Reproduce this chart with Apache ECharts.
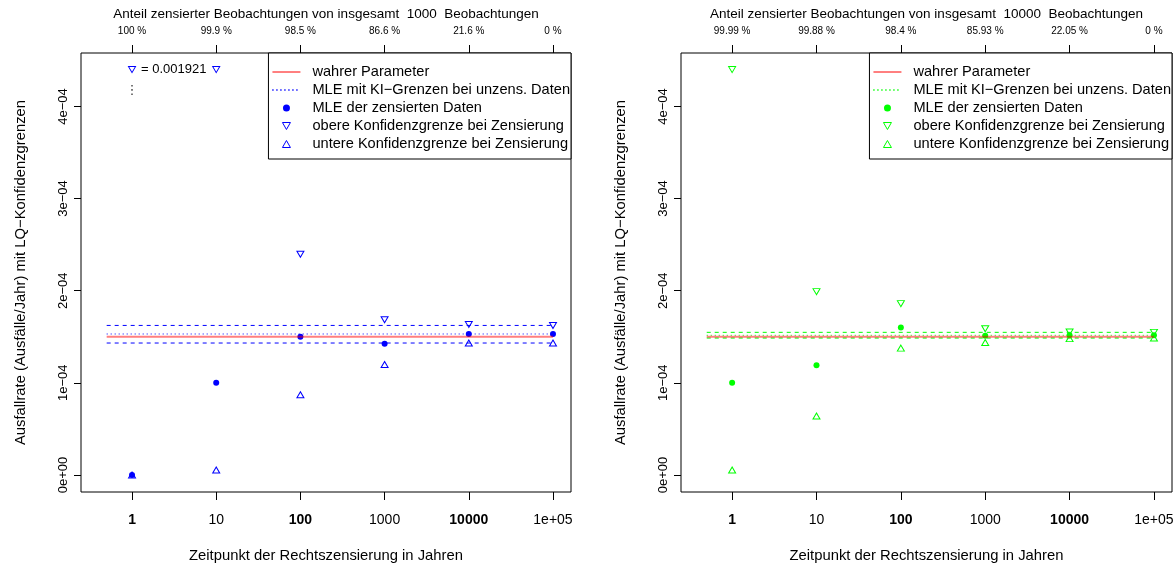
<!DOCTYPE html>
<html>
<head>
<meta charset="utf-8">
<script src="https://cdn.jsdelivr.net/npm/echarts@6/dist/echarts.min.js"></script>
<style>
html,body{margin:0;padding:0;background:#fff;}
#chart{width:1173px;height:563px;}
</style>
</head>
<body>
<div id="chart"></div>
<script>
// ---------------- data ----------------
const censorTimes = [1, 10, 100, 1000, 10000, 100000];
const xTickLabels = ['1', '10', '100', '1000', '10000', '1e+05'];
const yTickValues = [0, 1e-4, 2e-4, 3e-4, 4e-4];
const yTickLabels = ['0e+00', '1e\u221204', '2e\u221204', '3e\u221204', '4e\u221204'];
const trueParam = 1.5e-4;
const refLineRange = [0.5, 100000];
const yLimTop = 4.4e-4;   // values above this are drawn at the top with their value noted

// panel A: 1000 observations
const nObsA = 1000;
const censPctA = ['100 %', '99.9 %', '98.5 %', '86.6 %', '21.6 %', '0 %'];
const mleA = [0, 1.0e-4, 1.5e-4, 1.424e-4, 1.53e-4, 1.53e-4];
const upperA = [0.001921, 4.40e-4, 2.395e-4, 1.685e-4, 1.634e-4, 1.623e-4];
const lowerA = [0, 0.054e-4, 0.87e-4, 1.199e-4, 1.432e-4, 1.432e-4];
const uncensA = [1.53e-4, 1.432e-4, 1.623e-4]; // MLE, lower, upper (uncensored data)

// panel B: 10000 observations
const nObsB = 10000;
const censPctB = ['99.99 %', '99.88 %', '98.4 %', '85.93 %', '22.05 %', '0 %'];
const mleB = [1.0e-4, 1.19e-4, 1.60e-4, 1.51e-4, 1.516e-4, 1.516e-4];
const upperB = [4.40e-4, 1.99e-4, 1.86e-4, 1.587e-4, 1.552e-4, 1.548e-4];
const lowerB = [0.054e-4, 0.64e-4, 1.377e-4, 1.438e-4, 1.48e-4, 1.486e-4];
const uncensB = [1.516e-4, 1.486e-4, 1.548e-4];

const legendNames = [
  'wahrer Parameter',
  'MLE mit KI\u2212Grenzen bei unzens. Daten',
  'MLE der zensierten Daten',
  'obere Konfidenzgrenze bei Zensierung',
  'untere Konfidenzgrenze bei Zensierung'
];

// ---------------- chart ----------------
const FONT = '"Liberation Sans", Arial, Helvetica, sans-serif';
const lg = v => Math.log10(v);
const X_MIN = -0.606, X_MAX = 5.214;
const Y_MIN = -1.85e-5, Y_MAX = 4.58e-4;
const tickIdx = [0, 1, 2, 3, 4, 5];
const TRI_DOWN = 'path://M0,0L8,0L4,7Z';
const TRI_UP = 'path://M4,0L8,7L0,7Z';

function yLabel(v) {
  const i = yTickValues.findIndex(t => Math.abs(t - v) < 1e-12);
  return i >= 0 ? yTickLabels[i] : '';
}

const gridBase = { top: 53, bottom: 71, show: true, borderColor: '#000', borderWidth: 1,
  backgroundColor: 'transparent', containLabel: false, outerBoundsMode: 'none' };
const grids = [
  Object.assign({ left: 81, right: 602 }, gridBase),
  Object.assign({ left: 681, right: 1 }, gridBase)
];

function bottomAxis(gi) {
  return {
    type: 'value', gridIndex: gi, position: 'bottom', min: X_MIN, max: X_MAX,
    splitLine: { show: false }, axisLine: { show: false, onZero: false },
    axisTick: { show: true, length: 8, lineStyle: { color: '#000' }, customValues: tickIdx },
    axisLabel: {
      customValues: tickIdx, margin: 21, color: '#000', fontFamily: FONT, fontSize: 14,
      formatter: v => {
        const i = Math.round(v);
        return i % 2 === 0 ? '{b|' + xTickLabels[i] + '}' : xTickLabels[i];
      },
      rich: { b: { fontWeight: 'bold', fontFamily: FONT, fontSize: 14, color: '#000' } }
    },
    name: 'Zeitpunkt der Rechtszensierung in Jahren', nameLocation: 'middle', nameGap: 56,
    nameTextStyle: { fontFamily: FONT, fontSize: 14.8, color: '#000' }
  };
}
function topAxis(gi, pct, n) {
  return {
    type: 'value', gridIndex: gi, position: 'top', min: X_MIN, max: X_MAX,
    splitLine: { show: false }, axisLine: { show: false, onZero: false },
    axisTick: { show: true, length: 8, lineStyle: { color: '#000' }, customValues: tickIdx },
    axisLabel: {
      customValues: tickIdx, margin: 17, color: '#000', fontFamily: FONT, fontSize: 10,
      formatter: v => pct[Math.round(v)]
    },
    name: 'Anteil zensierter Beobachtungen von insgesamt  ' + n + '  Beobachtungen',
    nameLocation: 'middle', nameGap: 29,
    nameTextStyle: { fontFamily: FONT, fontSize: 13.5, color: '#000' }
  };
}
function leftAxis(gi) {
  return {
    type: 'value', gridIndex: gi, min: Y_MIN, max: Y_MAX,
    splitLine: { show: false }, axisLine: { show: false, onZero: false },
    axisTick: { show: true, length: 7, lineStyle: { color: '#000' }, customValues: yTickValues },
    axisLabel: {
      customValues: yTickValues, rotate: 90, margin: 11, color: '#000', fontFamily: FONT, fontSize: 13,
      formatter: yLabel
    },
    name: 'Ausfallrate (Ausfälle/Jahr) mit LQ\u2212Konfidenzgrenzen', nameLocation: 'middle', nameGap: 53,
    nameRotate: 90,
    nameTextStyle: { fontFamily: FONT, fontSize: 14.8, color: '#000' }
  };
}

function hline(name, val, xi, yi, style, z) {
  return {
    type: 'line', name: name, xAxisIndex: xi, yAxisIndex: yi, symbol: 'none', silent: true,
    data: [[lg(refLineRange[0]), val], [lg(refLineRange[1]), val]],
    lineStyle: style, itemStyle: { color: style.color }, z: z, animation: false
  };
}

function panelSeries(xi, yi, color, mle, upper, lower, uncens, suffix) {
  const N = legendNames.map(s => s + suffix);
  const tri = { color: 'transparent', borderColor: color, borderWidth: 1, opacity: 1 };
  const over = [];
  upper.forEach((v, i) => { if (v > yLimTop) over.push({ value: [lg(censorTimes[i]), yLimTop], real: v }); });
  const s = [
    hline(N[1] + ' o', uncens[2], xi, yi, { color: color, width: 1, type: [4, 4] }, 2),
    hline(N[1] + ' u', uncens[1], xi, yi, { color: color, width: 1, type: [4, 4] }, 2),
    hline(N[1], uncens[0], xi, yi, { color: color, width: 1, type: [1, 3] }, 2),
    {
      type: 'scatter', name: N[2], xAxisIndex: xi, yAxisIndex: yi, symbol: 'circle', symbolSize: 6,
      itemStyle: { color: color, opacity: 1 }, z: 3, animation: false,
      data: mle.map((v, i) => [lg(censorTimes[i]), v])
    },
    {
      type: 'scatter', name: N[3], xAxisIndex: xi, yAxisIndex: yi, symbol: 'triangle', symbolRotate: 180,
      symbolSize: [7, 6], itemStyle: tri, z: 4, animation: false, clip: true,
      data: upper.map((v, i) => [lg(censorTimes[i]), v])
    },
    {
      type: 'scatter', name: N[4], xAxisIndex: xi, yAxisIndex: yi, symbol: 'triangle',
      symbolSize: [7, 6], itemStyle: tri, z: 4, animation: false,
      data: lower.map((v, i) => [lg(censorTimes[i]), v])
    }
  ];
  if (over.length) {
    s.push({
      type: 'scatter', name: 'overflow' + suffix, xAxisIndex: xi, yAxisIndex: yi, symbol: 'triangle', symbolRotate: 180,
      symbolSize: [7, 6], itemStyle: tri, z: 4, animation: false,
      label: { show: true, position: 'right', distance: 5, color: '#000', fontFamily: FONT, fontSize: 13,
               formatter: p => '= ' + p.data.real },
      data: over
    });
    s.push({
      type: 'scatter', name: 'overflowDots' + suffix, xAxisIndex: xi, yAxisIndex: yi, symbolSize: 0,
      z: 4, animation: false,
      label: { show: true, position: 'inside', offset: [0, 21], color: '#000', fontFamily: 'DejaVu Sans', fontSize: 13,
               formatter: () => '\u22EE' },
      data: over.map(o => o.value)
    });
  }
  s.push(hline(N[0], trueParam, xi, yi, { color: 'rgba(255,0,0,0.5)', width: 2, type: 'solid' }, 6));
  return s;
}

function legendFor(right, color, suffix) {
  const data = legendNames.map((n, i) => {
    const d = { name: n + suffix };
    if (i === 0) { d.lineStyle = { color: '#ff0000', width: 1 }; d.itemStyle = { color: '#ff0000', opacity: 0 }; }
    if (i === 1) { d.itemStyle = { opacity: 0 }; }
    if (i === 3) { d.icon = TRI_DOWN; d.itemStyle = { color: 'transparent', borderColor: color, borderWidth: 1 }; }
    if (i === 4) { d.icon = TRI_UP; d.itemStyle = { color: 'transparent', borderColor: color, borderWidth: 1 }; }
    return d;
  });
  return {
    orient: 'vertical', right: right, top: 53, padding: [11, 1, 7, 3], itemGap: 2,
    itemWidth: 28, itemHeight: 7, symbolKeepAspect: true, symbolRotate: 0,
    backgroundColor: '#fff', borderColor: '#000', borderWidth: 1, borderRadius: 0,
    textStyle: { fontFamily: FONT, fontSize: 14.6, color: '#000', lineHeight: 16, padding: [0, 0, 0, 7] },
    selectedMode: false, data: data, z: 10
  };
}

const option = {
  backgroundColor: '#fff',
  animation: false,
  grid: grids,
  xAxis: [bottomAxis(0), topAxis(0, censPctA, nObsA), bottomAxis(1), topAxis(1, censPctB, nObsB)],
  yAxis: [leftAxis(0), leftAxis(1)],
  legend: [legendFor(602, '#0000ff', ''), legendFor(1, '#00ff00', '\u200B')],
  series: [].concat(
    panelSeries(0, 0, '#0000ff', mleA, upperA, lowerA, uncensA, ''),
    panelSeries(2, 1, '#00ff00', mleB, upperB, lowerB, uncensB, '\u200B')
  )
};

const chart = echarts.init(document.getElementById('chart'), null, { renderer: 'canvas' });
chart.setOption(option);
</script>
</body>
</html>
